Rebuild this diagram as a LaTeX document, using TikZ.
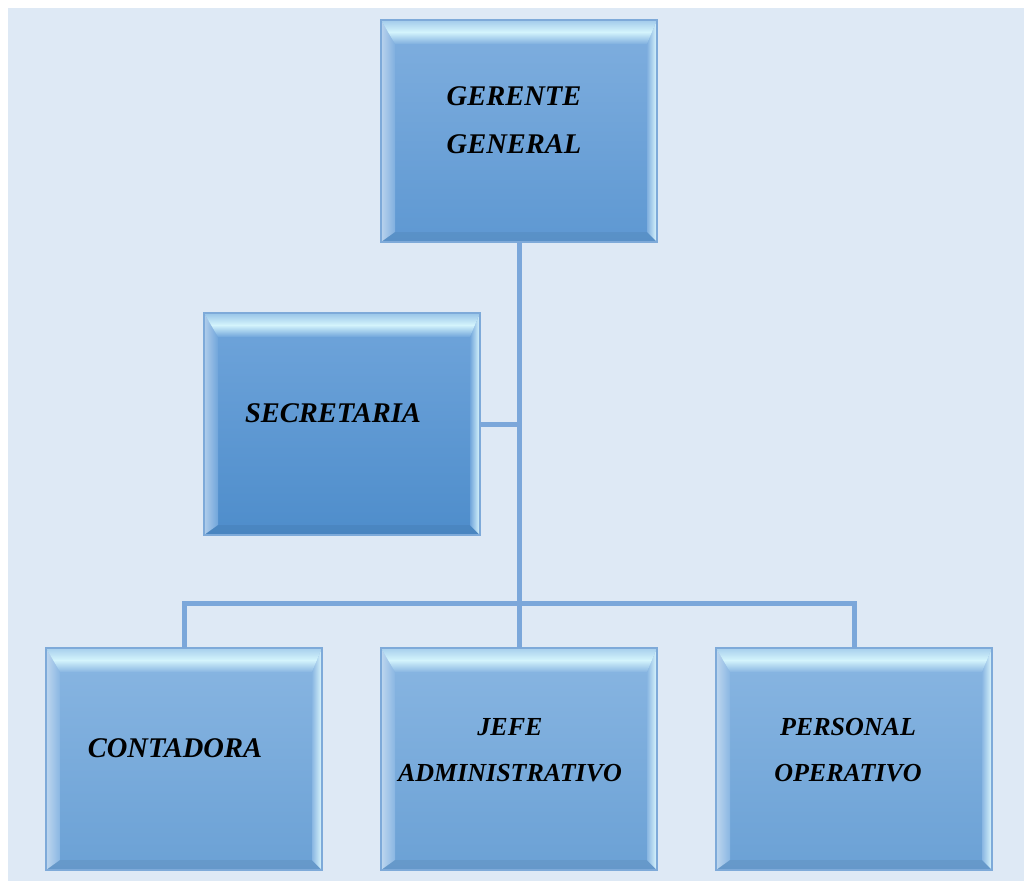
\documentclass[tikz,border=0pt]{standalone}
\usepackage{fontspec}
\setmainfont{Liberation Serif}
\definecolor{bg}{HTML}{DEE9F5}
\definecolor{conn}{HTML}{7BA7DA}
\definecolor{edgec}{HTML}{7EAAD9}
\definecolor{bevT}{HTML}{D4F4FC}
\definecolor{bevR}{HTML}{DDF8FD}
\definecolor{gTop}{HTML}{80AFDF}
\definecolor{gBot}{HTML}{5E98D2}
\definecolor{sTop}{HTML}{70A5DB}
\definecolor{sBot}{HTML}{4E8DCB}
\definecolor{bTop}{HTML}{89B6E2}
\definecolor{bBot}{HTML}{6BA1D5}
\newcommand\bevelbox[5]{% name, cx, cy, top colour, bottom colour
  \shade[top color=#4, bottom color=#5] ({#2-138},{#3-111}) rectangle ({#2+138},{#3+111});
  \shade[left color=#4!55!white, right color=#4] ({#2-138},{#3-111}) -- ({#2-124},{#3-87}) -- ({#2-124},{#3+101}) -- ({#2-138},{#3+111}) -- cycle;
  \fill[#5!80!black, opacity=0.25] ({#2-138},{#3+111}) -- ({#2-124},{#3+101}) -- ({#2+128},{#3+101}) -- ({#2+138},{#3+111}) -- cycle;
  \shade[left color=#4, right color=bevR] ({#2+138},{#3-111}) -- ({#2+128},{#3-87}) -- ({#2+128},{#3+101}) -- ({#2+138},{#3+111}) -- cycle;
  \shade[top color=#4!60!bevT, bottom color=#4, middle color=bevT] ({#2-138},{#3-111}) -- ({#2+138},{#3-111}) -- ({#2+128},{#3-87}) -- ({#2-124},{#3-87}) -- cycle;
  \draw[edgec, line width=1.2pt] ({#2-138},{#3-111}) rectangle ({#2+138},{#3+111});
  \node[inner sep=0, minimum width=276pt, minimum height=222pt] (#1) at (#2,#3) {};
}
\tikzset{
  link/.style={conn, line width=5pt},
  lbl/.style={align=center, text=black, font=\fontsize{28.5}{48}\selectfont\bfseries\itshape},
  lbls/.style={align=center, text=black, font=\fontsize{26}{46}\selectfont\bfseries\itshape}
}
\begin{document}
\begin{tikzpicture}[x=1pt,y=-1pt]
\fill[white] (0,0) rectangle (1024,881);
\fill[bg] (8,8) rectangle (1024,881);
\useasboundingbox (0,0) rectangle (1024,881);
\bevelbox{G}{519}{131}{gTop}{gBot}
\bevelbox{S}{342}{424}{sTop}{sBot}
\bevelbox{C}{184}{759}{bTop}{bBot}
\bevelbox{J}{519}{759}{bTop}{bBot}
\bevelbox{P}{854}{759}{bTop}{bBot}
\coordinate (bus) at (519,603);
\draw[link] (G.south) -- (J.north);
\draw[link] (S.east) -- (S.east -| G.south);
\draw[link] (C.north) |- (bus) -| (P.north);
\node[lbl] (tG) at (514,120) {GERENTE\\GENERAL};
\node[lbl] (tS) at (333,413) {SECRETARIA};
\node[lbl] (tC) at (175,748) {CONTADORA};
\node[lbls] (tJ) at (510,750) {JEFE\\ADMINISTRATIVO};
\node[lbls] (tP) at (848,750) {PERSONAL\\OPERATIVO};
\end{tikzpicture}
\end{document}
